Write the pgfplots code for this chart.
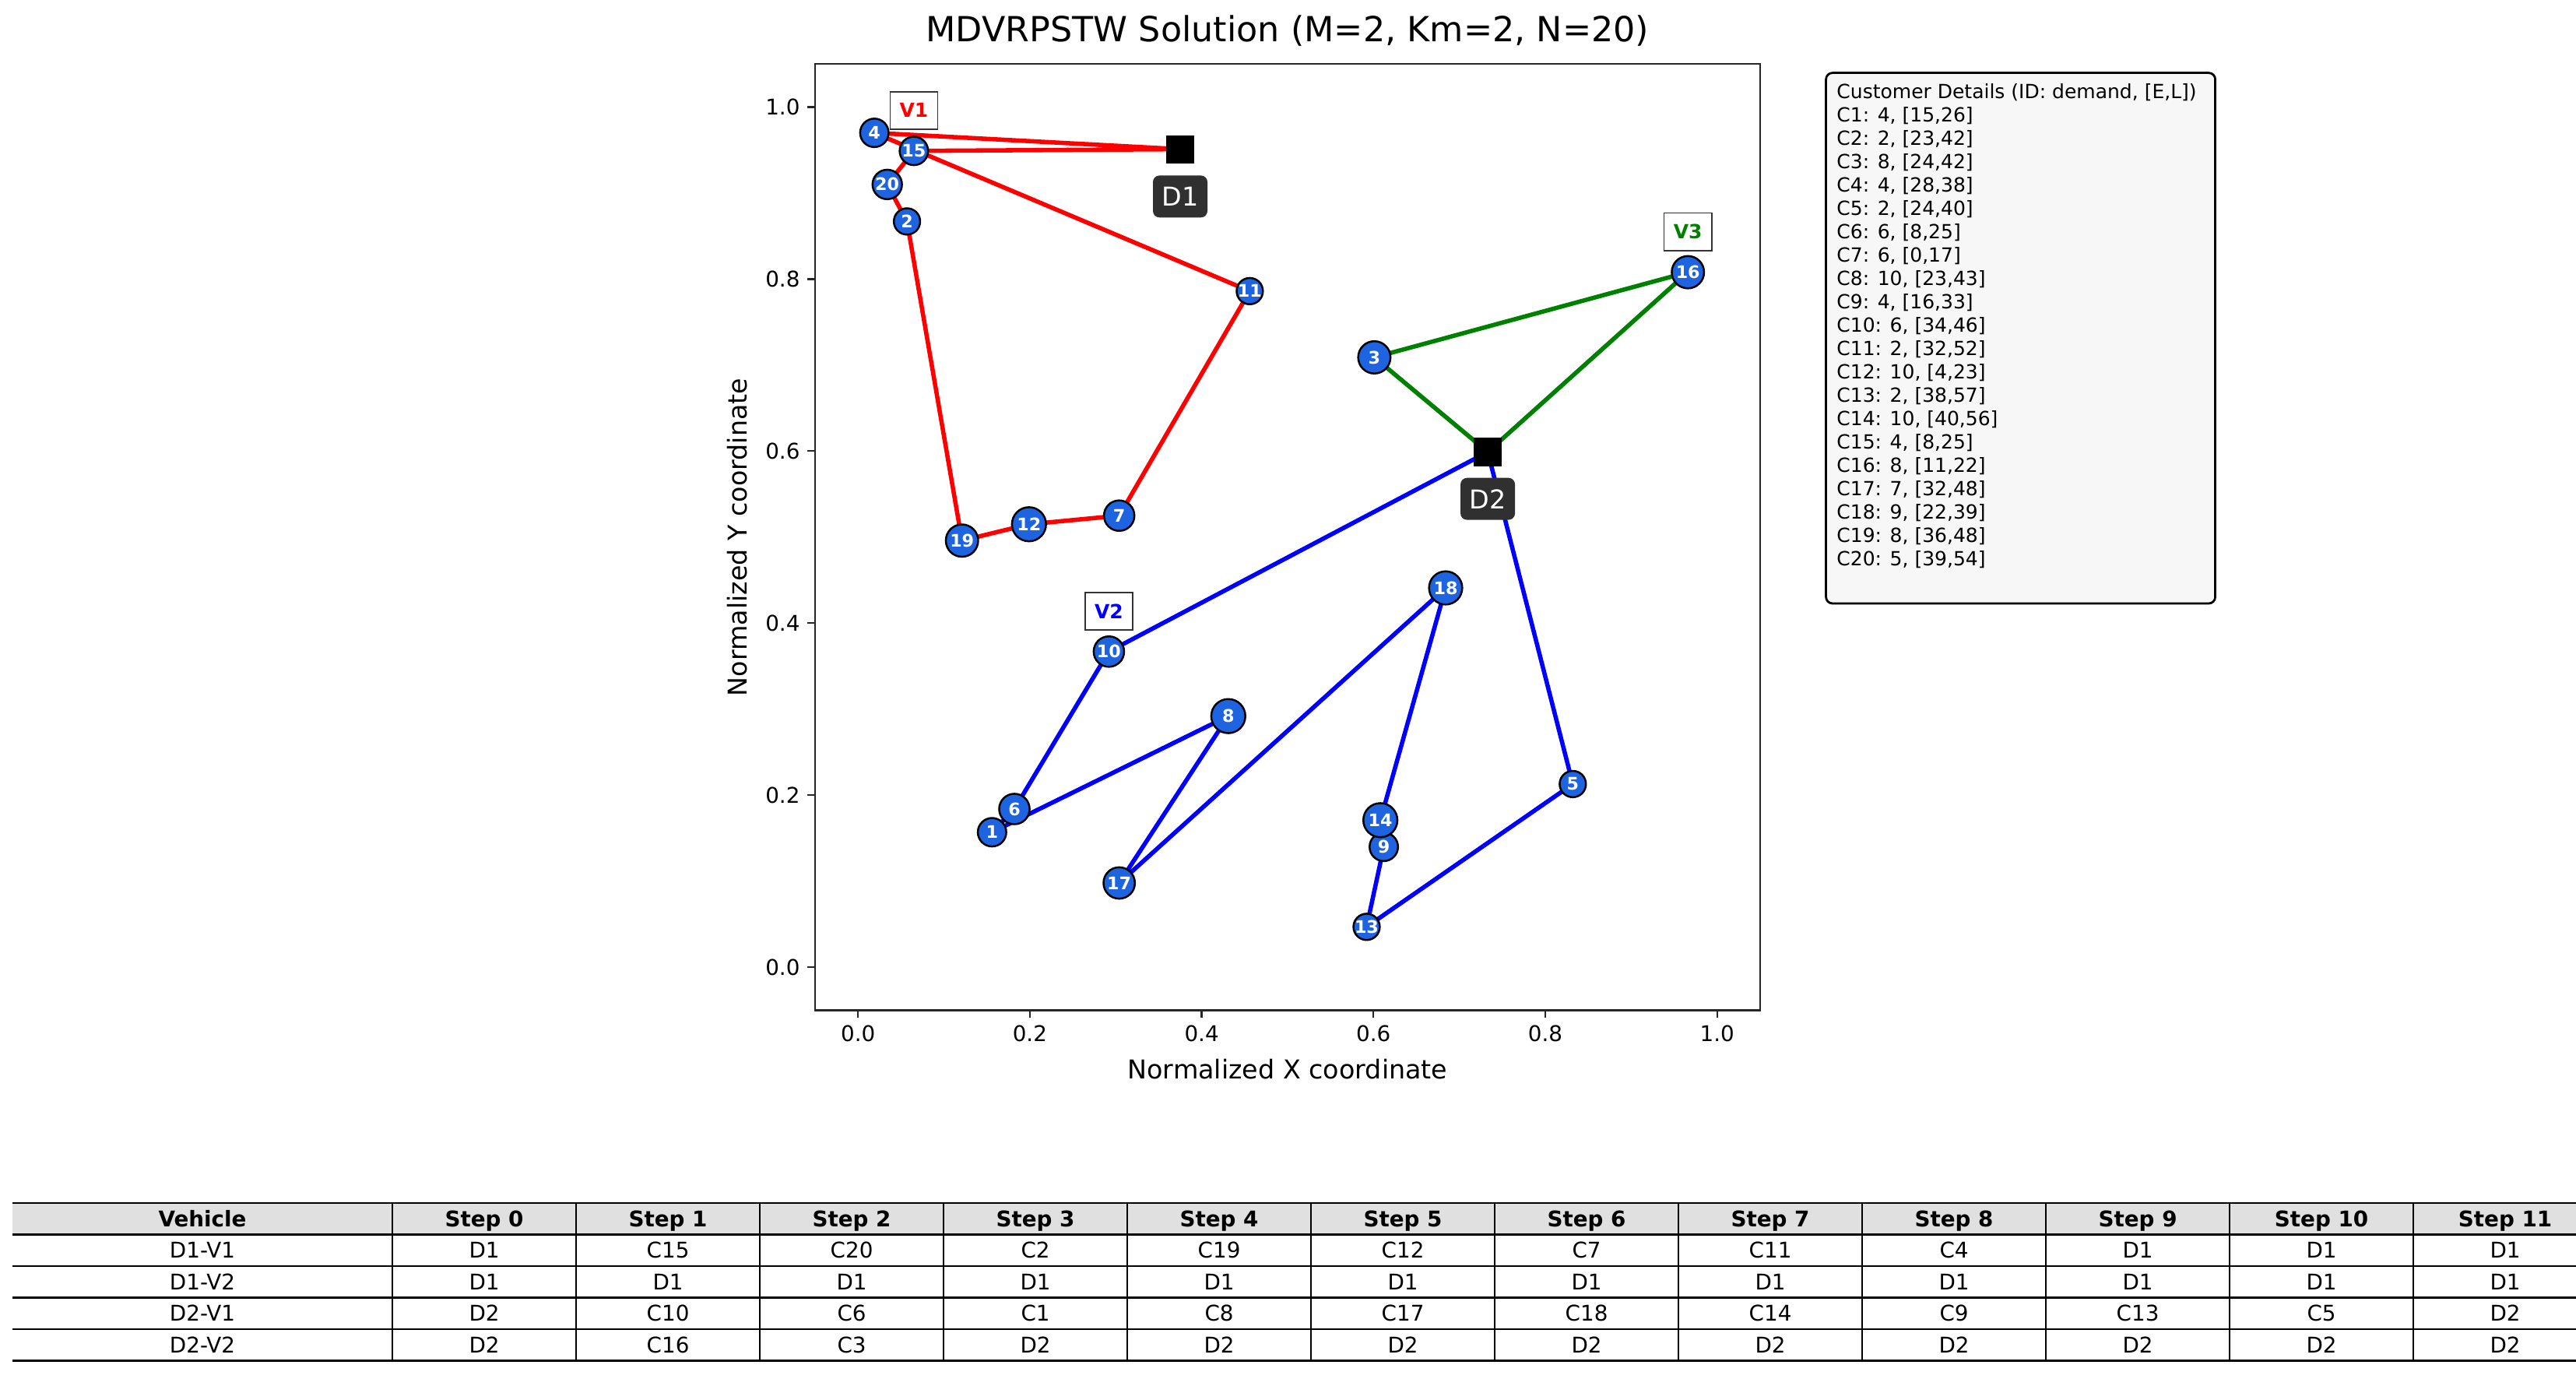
\documentclass[border=0pt]{standalone}
\usepackage{fontspec}
\setmainfont{DejaVu Sans}
\usepackage{pgfplots}
\usepackage{pgfplotstable}
\pgfplotsset{compat=1.18}

\definecolor{nodeblue}{RGB}{30,100,225}
\definecolor{mplgreen}{RGB}{0,128,0}

% customers: position, id, demand
\pgfplotstableread{
x     y     id d
0.156 0.157 1  4
0.057 0.867 2  2
0.601 0.709 3  8
0.019 0.970 4  4
0.832 0.213 5  2
0.182 0.184 6  6
0.304 0.525 7  6
0.431 0.292 8  10
0.612 0.140 9  4
0.292 0.367 10 6
0.456 0.786 11 2
0.199 0.515 12 10
0.592 0.047 13 2
0.608 0.171 14 10
0.065 0.949 15 4
0.966 0.808 16 8
0.304 0.098 17 7
0.684 0.441 18 9
0.121 0.496 19 8
0.034 0.910 20 5
}\custtab

\pgfplotstableread{
x     y
0.375 0.951
0.733 0.599
}\depottab

% D1-V1
\pgfplotstableread{
x     y
0.375 0.951
0.065 0.949
0.034 0.910
0.057 0.867
0.121 0.496
0.199 0.515
0.304 0.525
0.456 0.786
0.019 0.970
0.375 0.951
}\routeA

% D2-V1
\pgfplotstableread{
x     y
0.733 0.599
0.292 0.367
0.182 0.184
0.156 0.157
0.431 0.292
0.304 0.098
0.684 0.441
0.608 0.171
0.612 0.140
0.592 0.047
0.832 0.213
0.733 0.599
}\routeB

% D2-V2
\pgfplotstableread{
x     y
0.733 0.599
0.966 0.808
0.601 0.709
0.733 0.599
}\routeC

\begin{document}
\begin{tikzpicture}
\path[use as bounding box] (0pt,0pt) rectangle (1191.24pt,637.2pt);

\node[anchor=base, font=\fontsize{16}{19}\selectfont] at (595.4pt,618.0pt)
  {MDVRPSTW Solution (M=2, Km=2, N=20)};

\begin{axis}[
  at={(376.92pt,170.1pt)}, anchor=south west,
  scale only axis, width=437pt, height=437.5pt,
  xmin=-0.05, xmax=1.05, ymin=-0.05, ymax=1.05,
  xtick={0,0.2,0.4,0.6,0.8,1.0}, ytick={0,0.2,0.4,0.6,0.8,1.0},
  xtick pos=bottom, ytick pos=left,
  tick align=outside, major tick length=3.5pt,
  tick style={black!85, line width=0.8pt},
  axis line style={black!85, line width=0.8pt},
  xticklabel style={/pgf/number format/.cd, fixed, fixed zerofill, precision=1, assume math mode=true},
  yticklabel style={/pgf/number format/.cd, fixed, fixed zerofill, precision=1, assume math mode=true},
  ticklabel style={font=\fontsize{10}{12}\selectfont},
  xlabel={Normalized X coordinate}, ylabel={Normalized Y coordinate},
  label style={font=\fontsize{12}{14}\selectfont},
  xlabel style={at={(axis description cs:0.5,-0.0622)}, anchor=center},
  ylabel style={at={(axis description cs:-0.0824,0.5)}, anchor=center},
  clip=false,
]
% depots
\addplot[only marks, mark=square*, mark size=6.3pt, mark options={draw=black, fill=black}]
  table[x=x, y=y] {\depottab};
% customers, size by demand
\addplot[scatter, only marks, mark=*,
  mark options={line width=0.9pt},
  scatter/use mapped color={draw=black, fill=nodeblue},
  visualization depends on={0.36*sqrt(273+25.6*\thisrow{d})-0.4 \as \msize},
  scatter/@pre marker code/.append style={/tikz/mark size=\msize}]
  table[x=x, y=y] {\custtab};
% routes
\addplot[red, line width=2pt, line join=round, mark=none] table[x=x, y=y] {\routeA};
\addplot[blue, line width=2pt, line join=round, mark=none] table[x=x, y=y] {\routeB};
\addplot[mplgreen, line width=2pt, line join=round, mark=none] table[x=x, y=y] {\routeC};
% customer ids
\addplot[only marks, mark=none, nodes near coords, point meta=explicit symbolic,
  nodes near coords style={anchor=center, text=white, inner sep=0pt,
    font=\bfseries\fontsize{8}{9.6}\selectfont}]
  table[x=x, y=y, meta=id] {\custtab};

% depot labels
\node[fill=black!81, rounded corners=3pt, text=white, minimum width=25.2pt,
  minimum height=19.4pt, inner sep=0pt, font=\fontsize{12}{14}\selectfont]
  at (axis cs:0.375,0.896) {D1};
\node[fill=black!81, rounded corners=3pt, text=white, minimum width=25.2pt,
  minimum height=19.4pt, inner sep=0pt, font=\fontsize{12}{14}\selectfont]
  at (axis cs:0.733,0.5445) {D2};
% vehicle labels
\node[fill=white, draw=black!80, line width=0.6pt, minimum width=22pt, minimum height=17.3pt,
  inner sep=0pt, text=red, font=\bfseries\fontsize{9}{11}\selectfont]
  at (axis cs:0.065,0.996) {V1};
\node[fill=white, draw=black!80, line width=0.6pt, minimum width=22pt, minimum height=17.3pt,
  inner sep=0pt, text=blue, font=\bfseries\fontsize{9}{11}\selectfont]
  at (axis cs:0.292,0.414) {V2};
\node[fill=white, draw=black!80, line width=0.6pt, minimum width=22pt, minimum height=17.3pt,
  inner sep=0pt, text=mplgreen, font=\bfseries\fontsize{9}{11}\selectfont]
  at (axis cs:0.966,0.855) {V3};
\end{axis}

\begin{scope}[x=1pt,y=1pt]
% customer details box
\draw[line width=1pt, fill=black!3, rounded corners=3pt] (844.4,358.2) rectangle (1024.4,603.5);
\node[anchor=north west, align=left, inner sep=0pt, font=\fontsize{9}{10.8}\selectfont]
  at (849.2,598.7) {Customer Details (ID: demand, [E,L])\\
C1: 4, [15,26]\\
C2: 2, [23,42]\\
C3: 8, [24,42]\\
C4: 4, [28,38]\\
C5: 2, [24,40]\\
C6: 6, [8,25]\\
C7: 6, [0,17]\\
C8: 10, [23,43]\\
C9: 4, [16,33]\\
C10: 6, [34,46]\\
C11: 2, [32,52]\\
C12: 10, [4,23]\\
C13: 2, [38,57]\\
C14: 10, [40,56]\\
C15: 4, [8,25]\\
C16: 8, [11,22]\\
C17: 7, [32,48]\\
C18: 9, [22,39]\\
C19: 8, [36,48]\\
C20: 5, [39,54]};

% route table
\fill[black!12] (5.76,66.42) rectangle (1201,81);
\foreach \r in {0,...,5}
  \draw[line width=0.9pt] (5.76,{81-\r*14.58}) -- (1201,{81-\r*14.58});
\foreach \k in {0,...,12}
  \draw[line width=0.6pt] ({181.46+\k*84.96},8.1) -- ({181.46+\k*84.96},81);
\foreach \r/\row in {
  0/{Vehicle,Step 0,Step 1,Step 2,Step 3,Step 4,Step 5,Step 6,Step 7,Step 8,Step 9,Step 10,Step 11},
  1/{D1-V1,D1,C15,C20,C2,C19,C12,C7,C11,C4,D1,D1,D1},
  2/{D1-V2,D1,D1,D1,D1,D1,D1,D1,D1,D1,D1,D1,D1},
  3/{D2-V1,D2,C10,C6,C1,C8,C17,C18,C14,C9,C13,C5,D2},
  4/{D2-V2,D2,C16,C3,D2,D2,D2,D2,D2,D2,D2,D2,D2}} {
  \foreach \t [count=\c from 0] in \row {
    \pgfmathsetmacro\cx{\c==0 ? 93.61 : 181.46+(\c-0.5)*84.96}
    \pgfmathsetmacro\cy{81-(\r+0.5)*14.58}
    \ifnum\r=0
      \node[font=\bfseries\fontsize{10}{12}\selectfont, inner sep=0pt, anchor=base] at (\cx,\cy-3.6) {\t};
    \else
      \node[font=\fontsize{10}{12}\selectfont, inner sep=0pt, anchor=base] at (\cx,\cy-3.6) {\t};
    \fi
  }
}
\end{scope}
\end{tikzpicture}
\end{document}
